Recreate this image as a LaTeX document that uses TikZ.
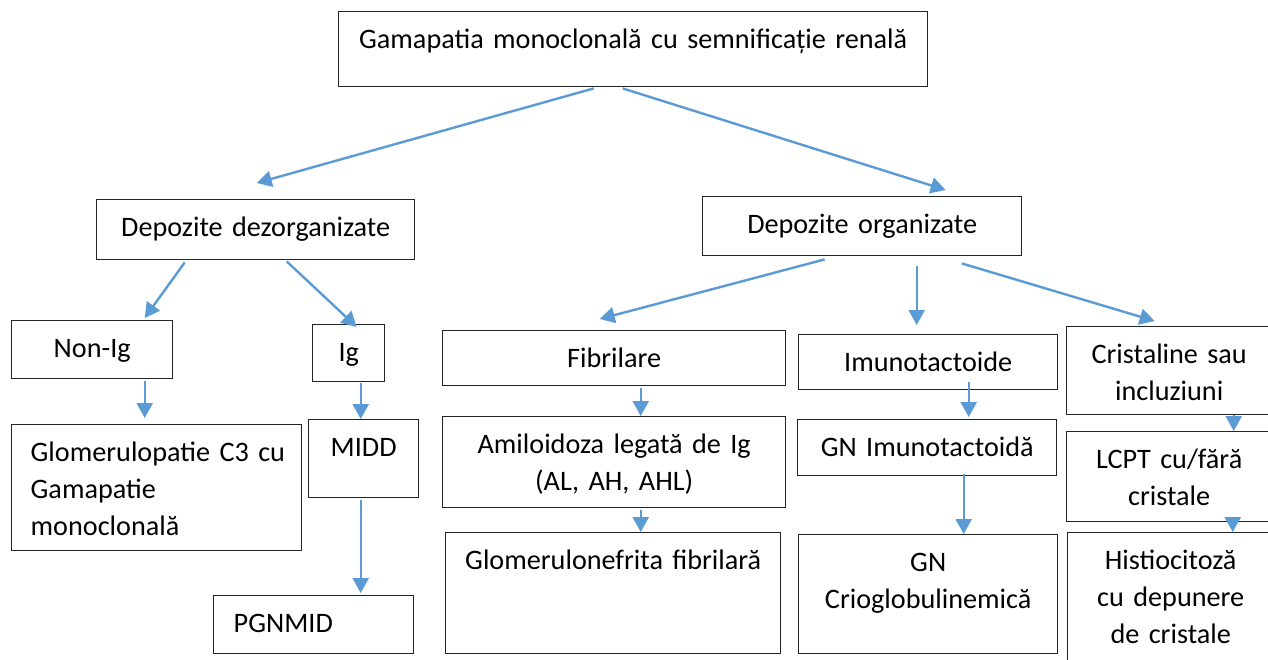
\documentclass[tikz,border=0pt]{standalone}
\usepackage{fontspec}
\setmainfont{Carlito}
\usepackage{xcolor}
\usetikzlibrary{arrows.meta, calc}
\definecolor{arrowblue}{RGB}{91, 155, 213}
\tikzstyle{box} = [rectangle, draw=black!85, line width=0.7pt, anchor=north west, inner sep=0pt, align=center, text height=18.5pt, font=\fontsize{14.1}{18.5}\selectfont]
\tikzstyle{arrow} = [line width=1.2pt, draw=arrowblue, -{Triangle[length=7.5pt, width=8pt]}]

\begin{document}
\begin{tikzpicture}[x=0.5pt, y=-0.5pt]
\useasboundingbox (0,0) rectangle (1268,659);
\clip (0,0) rectangle (1268,659);

% Top level
\node (top) [box, text width=294.5pt, text depth=19pt] at (338,11) {Gamapatia monoclonală cu semnificație renală};
\node (dez) [box, text width=159pt, text depth=11.5pt] at (96,199) {Depozite dezorganizate};
\node (org) [box, text width=159.5pt, text depth=11pt] at (702,196) {Depozite organizate};

% Left branch
\node (nonig) [box, text width=80.5pt, text depth=10.5pt] at (11,320) {Non-Ig};
\node (ig) [box, text width=36pt, text depth=10pt] at (312,324) {Ig};
\node (glom) [box, align=left, inner xsep=9.5pt, text width=126pt, text depth=44.5pt] at (11,424) {\mbox{Glomerulopatie C3 cu}\\Gamapatie\\monoclonală};
\node (midd) [box, text width=55pt, text depth=20.5pt] at (308,419) {MIDD};
\node (pgnmid) [box, align=left, inner xsep=10pt, text width=80pt, text depth=10.5pt] at (213,595) {PGNMID};

% Right branch
\node (fib) [box, text width=171.5pt, text depth=9pt] at (442,330) {Fibrilare};
\node (imu) [box, text width=129.5pt, text depth=9pt] at (798,334) {Imunotactoide};
\node (cri) [box, text width=102.5pt, text depth=25.5pt] at (1066,326) {Cristaline sau\\incluziuni};
\node (amy) [box, text width=171.5pt, text depth=27pt] at (442,416) {Amiloidoza legată de Ig\\(AL, AH, AHL)};
\node (gni) [box, text width=129.5pt, text depth=9.5pt] at (797,419) {GN Imunotactoidă};
\node (lcpt) [box, text width=102.5pt, text depth=26.5pt] at (1066,431) {LCPT cu/fără\\cristale};
\node (gnf) [box, text width=167.5pt, text depth=42pt] at (445,532) {Glomerulonefrita fibrilară};
\node (crio) [box, text width=129.5pt, text depth=41pt] at (798,534) {GN\\Crioglobulinemică};
\node (his) [box, text width=103pt, text depth=61.5pt] at (1067,532) {Histiocitoză\\cu depunere\\de cristale};

% Arrows
\draw [arrow] ($(top.south)+(-39.5,1)$) -- ($(dez.north)+(1,-16)$);
\draw [arrow] ($(top.south)+(-10.5,1)$) -- ($(org.north)+(83.5,-6)$);

\draw [arrow] ($(dez.south)+(-71,2)$) -- ($(nonig.north)+(52.5,-2)$);
\draw [arrow] ($(dez.south)+(31,1)$) -- ($(ig.north)+(8,3)$);
\draw [arrow] ($(nonig.south)+(52.5,2)$) -- ($(glom.north)+(-12,-6)$);
\draw [arrow] ($(ig.south)+(12,1)$) -- ($(midd.north)+(-3,0)$);
\draw [arrow] ($(midd.south)+(-3,2)$) -- ($(pgnmid.north)+(47,-2)$);

\draw [arrow] ($(org.south)+(-37.5,3)$) -- ($(fib.north)+(-14.5,-11)$);
\draw [arrow] ($(org.south)+(54.5,10)$) -- ($(imu.north)+(-11.5,-9)$);
\draw [arrow] ($(org.south)+(99.5,7)$) -- ($(cri.north)+(-14.5,-5)$);
\draw [arrow] ($(fib.south)+(26.5,2)$) -- ($(amy.north)+(26.5,0)$);
\draw [arrow] ($(amy.south)+(26.5,2)$) -- ($(gnf.north)+(27.5,0)$);
\draw [arrow] ($(imu.south)+(40.5,-8)$) -- ($(gni.north)+(41.5,-2)$);
\draw [arrow] ($(gni.south)+(36.5,-2)$) -- ($(crio.north)+(35.5,0)$);
\draw [arrow] ($(cri.south)+(64.5,0)$) -- ($(lcpt.north)+(64.5,0)$);
\draw [arrow] ($(lcpt.south)+(63.5,0)$) -- ($(his.north)+(62,0)$);

\end{tikzpicture}
\end{document}
